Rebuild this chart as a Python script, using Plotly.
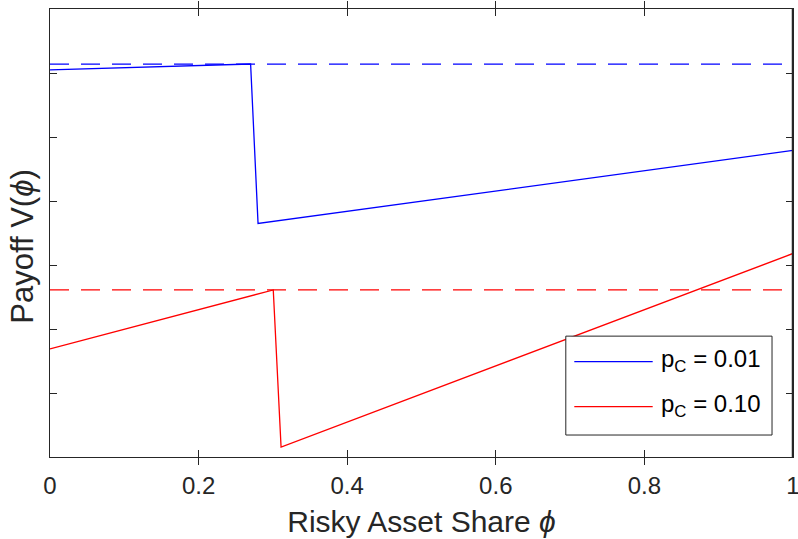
import plotly.graph_objects as go

# Data (y in arbitrary payoff units, no tick labels)
phi_low = [0.0, 0.270, 0.280, 1.0]
v_low = [6.05, 6.14, 3.65, 4.79]
opt_low = 6.14

phi_high = [0.0, 0.3005, 0.311, 1.0]
v_high = [1.69, 2.61, 0.156, 3.18]
opt_high = 2.61

x_ticks = [0, 0.2, 0.4, 0.6, 0.8, 1]
x_tick_labels = ["0", "0.2", "0.4", "0.6", "0.8", "1"]
y_ticks = [0, 1, 2, 3, 4, 5, 6, 7]
legend_labels = ["p<sub>C</sub> = 0.01", "p<sub>C</sub> = 0.10"]
colors = ["#0000ff", "#ff0000"]

AX = "#262626"
FONT = "Liberation Sans, Arial, sans-serif"
DASH = "19px,12px"

fig = go.Figure()
fig.add_trace(go.Scatter(x=phi_low, y=v_low, mode="lines",
                         line=dict(color=colors[0], width=1.3),
                         name=legend_labels[0], showlegend=False))
fig.add_trace(go.Scatter(x=phi_high, y=v_high, mode="lines",
                         line=dict(color=colors[1], width=1.3),
                         name=legend_labels[1], showlegend=False))
fig.add_trace(go.Scatter(x=[0, 1], y=[opt_low, opt_low], mode="lines",
                         line=dict(color=colors[0], width=1.3, dash=DASH),
                         showlegend=False))
fig.add_trace(go.Scatter(x=[0, 1], y=[opt_high, opt_high], mode="lines",
                         line=dict(color=colors[1], width=1.3, dash=DASH),
                         showlegend=False))
# invisible trace to activate the right-hand axis (mirrored ticks)
fig.add_trace(go.Scatter(x=[0, 1], y=[0, 7], mode="none", yaxis="y2",
                         showlegend=False, hoverinfo="skip"))

W, H = 798, 539
L, T, PW, PH = 49.5, 8.5, 744.0, 448.5


def px(xp):  # page x pixel -> paper fraction
    return (xp - L) / PW


def py(yp):  # page y pixel -> paper fraction
    return 1 - (yp - T) / PH


shapes = [
    # right-hand axis spine
    dict(type="line", xref="paper", yref="paper", x0=px(793.0), x1=px(793.0),
         y0=0, y1=1, line=dict(color=AX, width=1.5), layer="above"),
    # legend box
    dict(type="rect", xref="paper", yref="paper",
         x0=px(566), x1=px(772.5), y0=py(435), y1=py(336),
         line=dict(color=AX, width=1), fillcolor="white", layer="above"),
]
annotations = []
row_y = [361.5, 406.5]
for lab, col, ry in zip(legend_labels, colors, row_y):
    shapes.append(dict(type="line", xref="paper", yref="paper",
                       x0=px(574.5), x1=px(653), y0=py(ry), y1=py(ry),
                       line=dict(color=col, width=1.3), layer="above"))
    annotations.append(dict(xref="paper", yref="paper", x=px(659), y=py(ry - 1),
                            text=lab, showarrow=False, xanchor="left", yanchor="middle",
                            font=dict(size=24, family=FONT, color="#000000")))

annotations.append(dict(xref="paper", yref="paper", x=px(22), y=py(246),
                        text="Payoff V(<i>ϕ</i>)", showarrow=False, textangle=-90,
                        xanchor="center", yanchor="middle",
                        font=dict(size=31, family=FONT, color=AX)))

fig.update_layout(
    width=W, height=H,
    margin=dict(l=L, r=W - L - PW, t=T, b=H - T - PH, autoexpand=False),
    paper_bgcolor="white", plot_bgcolor="white",
    font=dict(family=FONT, color=AX, size=24),
    showlegend=False,
    shapes=shapes, annotations=annotations,
    xaxis=dict(range=[0, 1], tickvals=x_ticks, ticktext=x_tick_labels,
               ticks="inside", ticklen=7, tickcolor=AX, tickwidth=1,
               showline=True, linecolor=AX, linewidth=1, mirror="allticks",
               showgrid=False, zeroline=False, automargin=False,
               ticklabelstandoff=7, ticklabeloverflow="allow",
               tickfont=dict(size=24, color=AX),
               title=dict(text="Risky Asset Share <i>ϕ</i>", font=dict(size=30, color=AX), standoff=13)),
    yaxis=dict(range=[0, 7], tickvals=y_ticks, showticklabels=False,
               ticks="inside", ticklen=7, tickcolor=AX, tickwidth=1,
               showline=True, linecolor=AX, linewidth=1, mirror="allticks",
               showgrid=False, zeroline=False, automargin=False),
    yaxis2=dict(range=[0, 7], tickvals=y_ticks, showticklabels=False,
                overlaying="y", side="right",
                ticks="inside", ticklen=7, tickcolor=AX, tickwidth=1,
                showline=True, linecolor=AX, linewidth=1,
                showgrid=False, zeroline=False, automargin=False),
)

fig.write_html("out.html", config={"displayModeBar": False},
               post_script="document.body.style.margin='0';document.body.style.overflow='hidden';")
